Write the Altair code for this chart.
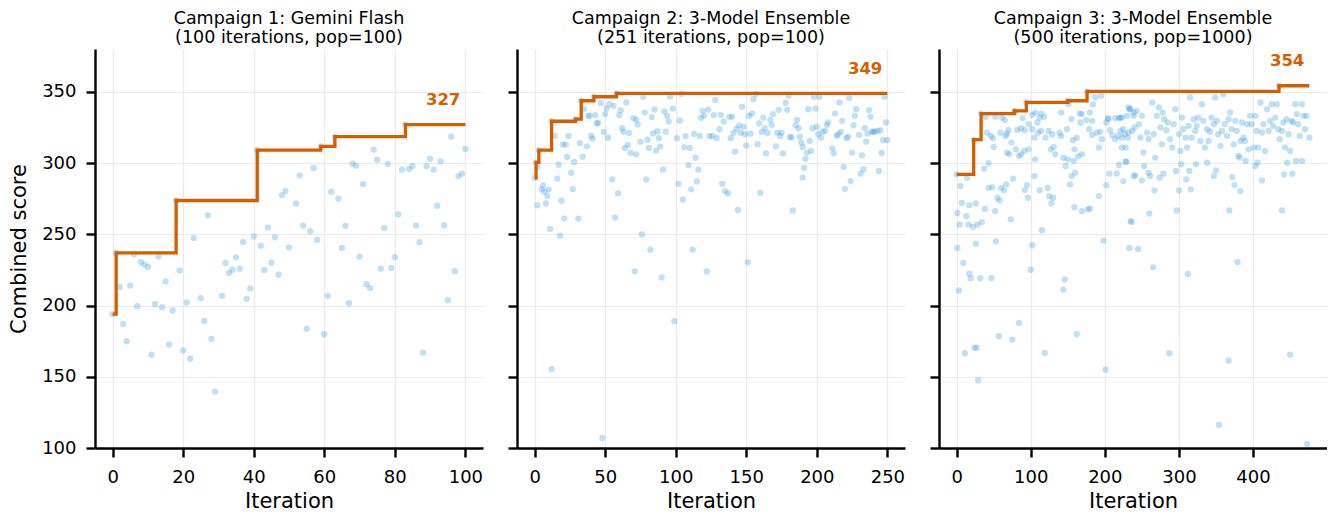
import altair as alt
import pandas as pd

FONT = "DejaVu Sans"
ORANGE = "#d55e00"
BLUE = "#3498db"

titles = [
    ["Campaign 1: Gemini Flash", "(100 iterations, pop=100)"],
    ["Campaign 2: 3-Model Ensemble", "(251 iterations, pop=100)"],
    ["Campaign 3: 3-Model Ensemble", "(500 iterations, pop=1000)"],
]
x_domains = [[-5, 105], [-12.5, 262.5], [-23.8, 499.8]]
x_ticks = [[0, 20, 40, 60, 80, 100], [0, 50, 100, 150, 200, 250], [0, 100, 200, 300, 400]]
y_ticks = [100, 150, 200, 250, 300, 350]
y_domain = [100, 380]

# (iteration, combined score)
c1_points = [
    (0, 194), (1, 237), (2, 213), (3, 187), (4, 175), (5, 214), (6, 236), (7, 199.5), (8, 230.5), (9, 228.7),
    (10, 227), (11, 165.5), (12, 201), (13, 234.3), (14, 198.8), (15, 216.9), (16, 172.5), (17, 196.5), (18, 273.7),
    (19, 224.6), (20, 168.5), (21, 202.1), (22, 162.7), (23, 247.4), (25, 205.2), (26, 189.2), (27, 263.2),
    (28, 176.5), (29, 139.6), (31, 206.8), (32, 229.8), (33, 222.8), (34, 225.1), (35, 233.8), (36, 225.8),
    (37, 244.6), (38, 204.7), (39, 212), (40, 248.4), (41, 309), (42, 242), (43, 224.9), (44, 254.7), (45, 230),
    (46, 247.9), (47, 221.6), (48, 277.5), (49, 280.3), (50, 240.8), (52, 271.6), (53, 291.3), (54, 256.1),
    (55, 183.6), (56, 252.1), (57, 296.5), (58, 246), (59, 311.7), (60, 179.8), (61, 206.8), (62, 279.8),
    (63, 318.5), (64, 275.1), (65, 240.4), (66, 255.9), (67, 201.6), (68, 299.5), (69, 298.1), (70, 234.3),
    (71, 285.2), (72, 215), (73, 212.2), (74, 309.4), (75, 302.3), (76, 225.8), (77, 254.4), (78, 299.3),
    (79, 226.3), (80, 234), (81, 263.9), (82, 295.3), (83, 327), (84, 295.8), (85, 297.9), (86, 256.1),
    (87, 244.4), (88, 166.9), (89, 297.7), (90, 303), (91, 295.3), (92, 270), (93, 301.2), (94, 256.3),
    (95, 203.7), (96, 318.5), (97, 224.1), (98, 290.8), (99, 292.5), (100, 309.9),
]

c2_points = [
    (0, 289.6), (1, 300.5), (2, 270.4), (2, 297), (3, 309), (5, 281.5), (6, 284.3), (7, 279.8), (8, 271.6),
    (9, 276.8), (10, 281.5), (11, 253.7), (12, 155.4), (12, 329.3), (14, 319), (16, 289), (17, 298.8), (18, 249),
    (19, 273.5), (20, 312.9), (21, 261), (22, 312.9), (23, 304.2), (24, 319), (26, 293.2), (27, 281.7),
    (28, 300.7), (29, 330.8), (31, 261), (32, 313.9), (33, 343.7), (34, 304.4), (35, 337.8), (37, 311.7),
    (38, 332.9), (39, 333.3), (40, 319.2), (41, 317.1), (42, 346.5), (43, 333.6), (44, 327.7), (45, 328.2),
    (47, 342), (48, 107), (49, 321.8), (50, 334.3), (51, 338.2), (52, 317.8), (53, 341.3), (55, 288.5),
    (56, 340.1), (57, 261.7), (58, 348.8), (59, 278.7), (60, 333.6), (61, 337.1), (62, 324.4), (63, 322),
    (64, 310.6), (65, 342.5), (66, 312.7), (67, 321.1), (68, 307), (70, 331.5), (71, 224), (72, 330.5),
    (72, 306.1), (73, 327), (75, 315), (76, 249.8), (77, 346.3), (78, 335.4), (79, 288.5), (80, 316.4),
    (81, 310.6), (82, 239.2), (83, 332.2), (84, 320.7), (85, 337.5), (86, 308.7), (87, 322.3), (88, 317.4),
    (89, 311.5), (90, 219.7), (91, 295.5), (92, 336.1), (93, 322), (94, 333.1), (95, 329.1), (96, 346.7),
    (98, 338.2), (99, 189), (101, 317.4), (102, 285.4), (103, 329.8), (104, 348.4), (105, 274.4), (106, 311),
    (107, 318.8), (109, 298.4), (110, 310.6), (111, 281.5), (112, 239.2), (113, 320.4), (114, 303.7),
    (115, 287.1), (116, 295.3), (117, 319), (118, 331.7), (119, 336.6), (120, 333.3), (122, 223.9),
    (123, 337.5), (124, 318.8), (126, 319), (127, 333.6), (128, 344.2), (129, 317.4), (131, 323.7),
    (132, 333.8), (133, 285.4), (134, 329.1), (135, 280.3), (137, 278.7), (138, 332.4), (139, 317.4),
    (140, 332.4), (141, 321), (142, 308), (143, 324), (144, 267.1), (145, 326.3), (146, 321.3), (147, 339.4),
    (148, 325.4), (149, 320.2), (150, 312.2), (151, 230.3), (152, 333.1), (153, 320.6), (154, 334.7),
    (155, 344.8), (157, 348.4), (158, 313.2), (159, 327.7), (160, 279.1), (161, 321.8), (162, 331.9),
    (163, 324.4), (164, 306.8), (165, 321.1), (167, 330.5), (168, 326.8), (169, 334.3), (171, 311.7),
    (172, 321.3), (173, 337.3), (174, 319), (175, 321.3), (176, 306.8), (178, 342.3), (179, 337.3),
    (180, 347.2), (181, 318.5), (182, 317.8), (183, 266.7), (185, 326.5), (186, 330.3), (187, 324.4),
    (188, 318.5), (189, 314.3), (190, 311.3), (190, 289.7), (191, 296.7), (192, 303), (193, 307.3),
    (194, 337.8), (195, 315.5), (196, 308.5), (197, 324.4), (198, 346.5), (199, 338.2), (200, 325.5),
    (201, 320.2), (202, 346.5), (203, 317.8), (204, 322), (206, 322.5), (207, 326.8), (208, 328.4),
    (211, 310.3), (212, 306.8), (213, 334.7), (214, 319), (215, 320.2), (216, 342.5), (217, 321.8),
    (218, 329.6), (219, 297.2), (220, 281.9), (221, 317.4), (222, 318.5), (223, 345.6), (224, 287.3),
    (225, 307.3), (226, 326.5), (227, 333.1), (228, 337.8), (230, 319.7), (231, 292.5), (232, 305.4),
    (233, 295.6), (234, 324.4), (235, 315), (236, 320.6), (237, 337.1), (238, 332.4), (239, 322), (240, 322),
    (241, 322), (243, 322.5), (244, 294.4), (245, 323), (246, 307), (247, 316.2), (248, 346.5), (249, 328.4),
    (250, 316),
]

c3_points = [
    (0, 292), (23, 316.4), (33, 334.7), (78, 336.6), (94, 342.5), (150, 343.7), (176, 350.2), (435, 354.2),
    (5, 283.8), (14, 289.7), (7, 272), (17, 270.4), (26, 271.6), (1, 265), (4, 256.8), (13, 262.7), (16, 256.8),
    (22, 255.1), (28, 256.8), (34, 258.5), (38, 267.8), (37, 296), (43, 299.8), (43, 282.6), (48, 283.1),
    (52, 266.2), (53, 245.1), (55, 275.6), (58, 273.7), (60, 282.6), (64, 280.8), (67, 285), (73, 260.4),
    (76, 289), (26, 243.4), (1, 240.4), (9, 229.8), (17, 222.3), (19, 219.2), (32, 219.2), (47, 219.2),
    (100, 225.1), (102, 242.3), (115, 252.8), (95, 284.5), (92, 281), (112, 281), (123, 282.6), (130, 275.6),
    (128, 271.6), (153, 285), (159, 269), (169, 266.2), (177, 267.4), (180, 268.1), (192, 276.8), (202, 284.5),
    (198, 245.5), (206, 292.5), (216, 292.7), (219, 298.6), (228, 300.9), (235, 259.2), (239, 290.8),
    (233, 240.4),
    (50, 311.3), (46, 319), (49, 317.4), (41, 321.3), (39, 332.4), (52, 332.4), (61, 331.9), (65, 330.1),
    (59, 321.3), (66, 319), (68, 320.6), (70, 323), (68, 307.3), (71, 306.1), (74, 314.3), (80, 309.6),
    (84, 304.9), (87, 306.1), (91, 308.5), (79, 336.1), (89, 331.5), (82, 323.2), (87, 324.4), (92, 323),
    (97, 309.6), (106, 302.6), (102, 333.8), (106, 335.4), (109, 328.4), (112, 331.9), (114, 334.7),
    (118, 332.4), (97, 327.3), (102, 323.7), (105, 317.8), (110, 321.3), (114, 322.5), (120, 317.8),
    (124, 322.5), (129, 320.2), (131, 311.3), (133, 306.1), (139, 321.3), (127, 309.6), (141, 335.4),
    (141, 319), (144, 303.7), (147, 297.9), (150, 302.6), (149, 323.7), (155, 330.8), (157, 316), (159, 309.6),
    (162, 317.8), (166, 334.7), (167, 328.4), (169, 334.3), (164, 304.7), (175, 330.1), (180, 335.4),
    (183, 329.6), (179, 323.7), (183, 319.7), (189, 321.3), (192, 310.8), (194, 322), (196, 316.7),
    (202, 328.4), (204, 331.5), (207, 323), (210, 319.5), (214, 316.7), (218, 319), (221, 322.5), (223, 310.8),
    (227, 320.2), (231, 317.8), (237, 322.5), (240, 324.9), (232, 339), (169, 306.1), (158, 301.4),
    (155, 290.8), (160, 293.2), (105, 290.8), (96, 275.6), (125, 276.8), (151, 341.3), (184, 341.3),
    (187, 346), (195, 347.2), (205, 330.8), (214, 331.5), (219, 331.5), (223, 331.9), (230, 333.1),
    (234, 337.8), (239, 335.4),
    (3, 210.6), (11, 166.5), (24, 170.4), (27, 170.4), (29, 147.4), (57, 178.4), (75, 176.1), (84, 187.8),
    (119, 166.7), (162, 179.8), (201, 155), (287, 166.5), (354, 116.2), (367, 161.3), (450, 165.5),
    (473, 102.9), (146, 218.3), (144, 211.1),
    (221, 331.9), (225, 323.7), (223, 317.8), (228, 310.8), (232, 321.4), (234, 337.8), (239, 333.1),
    (243, 336.6), (246, 327.2), (250, 333.1), (248, 317.8), (252, 307.3), (257, 321.4), (259, 316.7),
    (264, 342.5), (266, 320.2), (268, 303.8), (270, 333.1), (273, 339), (275, 324.9), (277, 313.1),
    (278, 335.4), (280, 330.7), (283, 323), (285, 328.4), (288, 316.7), (291, 310.8), (293, 327.2),
    (295, 337.8), (300, 320.2), (302, 308.5), (304, 331.9), (306, 323.7), (309, 317.8), (311, 310.8),
    (313, 326.1), (315, 346), (317, 317.8), (320, 330.7), (322, 322.5), (324, 326.1), (326, 331.9),
    (329, 315.5), (331, 341.3), (333, 329.6), (335, 310.8), (338, 323.7), (340, 315.5), (342, 322),
    (344, 331.9), (347, 327.2), (349, 346), (351, 329.6), (353, 320.2), (356, 312), (358, 322.5), (360, 348.3),
    (362, 327.2), (365, 319), (367, 330.7), (369, 335.4), (371, 323.7), (374, 313.1), (376, 329.6),
    (378, 322.5), (380, 304.9), (383, 315.5), (385, 328.4), (387, 317.8), (389, 315.5), (392, 327.2),
    (394, 309.6), (396, 333.1), (398, 327.2), (401, 310.8), (403, 333.1), (405, 322.5), (407, 310.8),
    (410, 342.5), (412, 321.4), (414, 327.2), (416, 308.4), (419, 337.8), (421, 322.5), (423, 329.6),
    (425, 341.3), (427, 326.1), (430, 331.9), (432, 341.3), (434, 323.7), (436, 316.7), (439, 322.5),
    (441, 328.4), (443, 310.8), (445, 330.7), (448, 320.2), (450, 308.4), (452, 329.6), (454, 328.4),
    (457, 341.3), (459, 334.3), (461, 327.2), (463, 319), (466, 341.3), (468, 333.1), (470, 323.7),
    (472, 333.1), (476, 317.8),
    (225, 287.3), (229, 300.9), (241, 291.3), (250, 287.8), (253, 297.9), (259, 293.2), (261, 290.8),
    (267, 280.8), (274, 289.7), (279, 292.5), (296, 294.4), (297, 266.7), (300, 280.8), (303, 299.1),
    (310, 288.5), (314, 294.4), (316, 281.5), (323, 299.1), (338, 300.2), (347, 290.8), (350, 294.8),
    (368, 266.7), (372, 290.1), (375, 284.5), (382, 303.8), (383, 280.3), (390, 301.4), (403, 297.9),
    (406, 300.2), (412, 287.8), (439, 266.7), (442, 292), (446, 300.2), (453, 292.5), (458, 301.4),
    (466, 301.4), (236, 258.7), (260, 264.6), (245, 239.7), (265, 226.8), (312, 222.1), (379, 230.5),
]

all_points = [c1_points, c2_points, c3_points]


def panel(points, title, xdom, xvals, first):
    df = pd.DataFrame(points, columns=["iteration", "score"])
    best = (
        df.groupby("iteration", as_index=False)["score"].max().sort_values("iteration")
    )
    best["best"] = best["score"].cummax()
    last = best.tail(1).copy()
    last["label"] = last["best"].round().astype(int).astype(str)

    xscale = alt.Scale(domain=xdom, nice=False, zero=False)
    xaxis = alt.Axis(values=xvals, title="Iteration", format="d")
    yscale = alt.Scale(domain=y_domain, nice=False, zero=False)
    if first:
        yaxis = alt.Axis(values=y_ticks, title="Combined score")
    else:
        yaxis = alt.Axis(values=y_ticks, labels=False, title=None)

    pts = alt.Chart(df).mark_circle(size=40, color=BLUE, opacity=0.3).encode(
        x=alt.X("iteration:Q", scale=xscale, axis=xaxis),
        y=alt.Y("score:Q", scale=yscale, axis=yaxis),
    )
    line = alt.Chart(best).mark_line(
        interpolate="step-after", color=ORANGE, strokeWidth=3.3
    ).encode(
        x=alt.X("iteration:Q", scale=xscale, axis=xaxis),
        y=alt.Y("best:Q", scale=yscale, axis=yaxis),
    )
    txt = alt.Chart(last).mark_text(
        align="right", baseline="alphabetic", dx=-5, dy=-19.5,
        font=FONT, fontSize=16.5, fontWeight="bold", color=ORANGE,
    ).encode(
        x=alt.X("iteration:Q", scale=xscale, axis=xaxis),
        y=alt.Y("best:Q", scale=yscale, axis=yaxis),
        text="label:N",
    )
    return alt.layer(pts, line, txt).properties(
        width=388,
        height=399,
        title=alt.TitleParams(
            text=title, font=FONT, fontSize=17.5, fontWeight="normal", color="black",
            lineHeight=19, offset=3, anchor="middle", frame="group",
        ),
    )


panels = [
    panel(all_points[i], titles[i], x_domains[i], x_ticks[i], i == 0) for i in range(3)
]

chart = (
    alt.hconcat(*panels, spacing=23)
    .properties(padding={"left": 0, "top": 1, "right": 0, "bottom": 0})
    .configure_view(strokeWidth=0)
    .configure_axis(
        domainColor="black", domainWidth=2.4, tickColor="black", tickWidth=2.4, tickSize=9,
        gridColor="#ebebeb", gridWidth=1.2,
        labelFont=FONT, labelFontSize=18, labelColor="black",
        titleFont=FONT, titleFontSize=21, titleFontWeight="normal", titleColor="black",
    )
    .configure_axisX(labelPadding=11, titlePadding=4)
    .configure_axisY(labelPadding=10, titlePadding=12)
)

chart.save("out.html", embed_options={"renderer": "svg", "actions": False})
